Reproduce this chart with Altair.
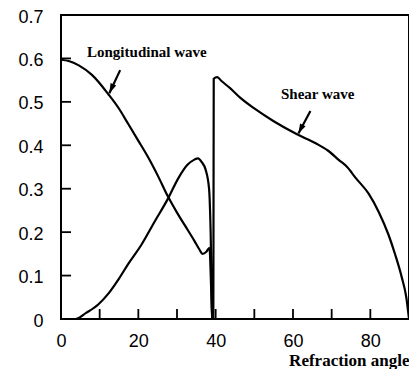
import altair as alt
import pandas as pd

# Longitudinal wave curve (refraction angle, amplitude)
long_x = [0, 2, 4.6, 8.0, 12.3, 14.8, 17.4, 19.9, 22.5, 25.1, 27.6, 30.0, 32.0, 34.5, 35.8, 36.6, 37.6, 38.4, 38.8, 39.1]
long_y = [0.597, 0.594, 0.584, 0.562, 0.517, 0.487, 0.449, 0.412, 0.373, 0.329, 0.283, 0.245, 0.216, 0.180, 0.160, 0.150, 0.155, 0.164, 0.08, 0.0]

# Shear wave curve
shear_x = [0, 3.8, 6.5, 9.7, 12.3, 15.0, 17.4, 20.8, 24.2, 27.6, 30.4, 32.7, 34.5, 35.4, 36.5, 37.4, 38.3, 38.7, 39.1,
           39.4, 39.5, 40.4, 41.5, 43.8, 46.4, 49.8, 54.9, 60.9, 66.0, 69.0, 71.9, 74.0, 76.2, 79.6, 82.2, 84.7, 86.4,
           88.1, 89.3, 90.0]
shear_y = [0.0, 0.0, 0.014, 0.034, 0.059, 0.093, 0.127, 0.171, 0.224, 0.276, 0.325, 0.355, 0.367, 0.370, 0.360, 0.344,
           0.299, 0.200, 0.0, 0.0, 0.553, 0.557, 0.548, 0.531, 0.509, 0.486, 0.456, 0.426, 0.404, 0.388, 0.366, 0.350,
           0.325, 0.288, 0.246, 0.194, 0.149, 0.097, 0.050, 0.0]

# Annotations
label_text = ["Longitudinal wave", "Shear wave"]
label_x = [22.2, 66.4]
label_y = [0.614, 0.517]
arrow_x0 = [15.3, 64.5]
arrow_y0 = [0.573, 0.479]
arrow_x1 = [12.5, 61.4]
arrow_y1 = [0.520, 0.427]
arrow_angle = [204.6, 207.0]

x_ticks = [10, 20, 30, 40, 50, 60, 70, 80]
y_ticks = [0.1, 0.2, 0.3, 0.4, 0.5, 0.6]

rows = []
for i, (a, b) in enumerate(zip(long_x, long_y)):
    rows.append({"series": "Longitudinal", "x": a, "y": b, "o": i})
for i, (a, b) in enumerate(zip(shear_x, shear_y)):
    rows.append({"series": "Shear", "x": a, "y": b, "o": i})
curves = pd.DataFrame(rows)

xs = alt.Scale(domain=[0, 90], nice=False, zero=False)
ys = alt.Scale(domain=[0, 0.7], nice=False)

W, H = 348, 304

lines = alt.Chart(curves).mark_line(color="black", strokeWidth=2.2, interpolate="monotone").encode(
    x=alt.X("x:Q", scale=xs, axis=alt.Axis(
        values=[0, 20, 40, 60, 80], ticks=False, domain=False, grid=False, labelFlush=False,
        labelFont="Liberation Sans", labelFontSize=18, labelColor="black", labelPadding=13,
        title="Refraction angle", titleFont="Liberation Serif", titleFontSize=17, titleFontWeight="bold",
        titleColor="black", titleAlign="right", titleAnchor="end", titleX=W, titleY=46,
        titleBaseline="alphabetic")),
    y=alt.Y("y:Q", scale=ys, axis=alt.Axis(
        values=[0, 0.1, 0.2, 0.3, 0.4, 0.5, 0.6, 0.7], ticks=False, domain=False, grid=False,
        labelExpr="datum.value == 0 ? '0' : format(datum.value, '.1f')",
        labelFont="Liberation Sans", labelFontSize=18, labelColor="black", labelPadding=18,
        labelOffset=2, title=None)),
    detail="series:N",
    order="o:Q",
)

xt = alt.Chart(pd.DataFrame({"t": x_ticks})).mark_rule(color="black", strokeWidth=1.8).encode(
    x=alt.X("t:Q", scale=xs), y=alt.value(H), y2=alt.value(H - 10))
yt = alt.Chart(pd.DataFrame({"t": y_ticks})).mark_rule(color="black", strokeWidth=1.8).encode(
    y=alt.Y("t:Q", scale=ys), x=alt.value(0), x2=alt.value(10))

ann = pd.DataFrame({"text": label_text, "x": label_x, "y": label_y,
                    "x0": arrow_x0, "y0": arrow_y0, "x1": arrow_x1, "y1": arrow_y1, "ang": arrow_angle})

texts = alt.Chart(ann).mark_text(font="Liberation Serif", fontSize=15, fontWeight="bold", color="black").encode(
    x=alt.X("x:Q", scale=xs), y=alt.Y("y:Q", scale=ys), text="text:N")
shafts = alt.Chart(ann).mark_rule(color="black", strokeWidth=2.2).encode(
    x=alt.X("x0:Q", scale=xs), y=alt.Y("y0:Q", scale=ys), x2="x1:Q", y2="y1:Q")
heads = alt.Chart(ann).mark_point(shape="M0,0L0.32,1L-0.32,1Z", filled=True, color="black", opacity=1, size=380).encode(
    x=alt.X("x1:Q", scale=xs), y=alt.Y("y1:Q", scale=ys), angle=alt.Angle("ang:Q", scale=None))

chart = alt.layer(lines, xt, yt, shafts, heads, texts).properties(
    width=W, height=H,
    autosize=alt.AutoSizeParams(type="none"),
    padding={"left": 53, "top": 7, "right": 0, "bottom": 50},
    background="white",
).configure_view(stroke="black", strokeWidth=2)

chart.save("out.html", embed_options={"renderer": "svg", "actions": False})
